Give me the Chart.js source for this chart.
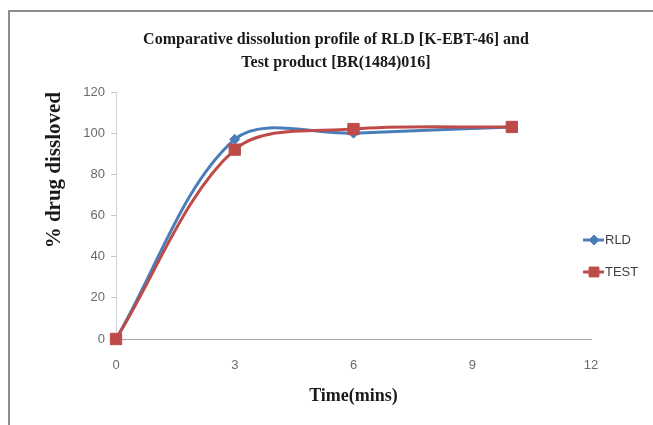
<!DOCTYPE html>
<html lang="en">

<head>
    <meta charset="UTF-8">
    <title>Dissolution profile</title>
    <style>
        html, body { margin: 0; padding: 0; background: #fff; overflow: hidden; }
        #frame {
            position: absolute; left: 8px; top: 10px; width: 700px; height: 500px;
            border-left: 2px solid #8c8c8c; border-top: 2px solid #8c8c8c;
        }
        #wrap { position: absolute; left: 0; top: 0; width: 653px; height: 425px; }
    </style>
</head>

<body>
    <div id="frame"></div>
    <div id="wrap">
        <canvas id="myChart" width="653" height="425"></canvas>
    </div>

    <script src="https://cdn.jsdelivr.net/npm/chart.js"></script>

    <script>

        // values
        var TIME = [0, 3, 6, 10];
        var RLD = [0, 97, 100, 103];
        var TEST = [0, 92, 102, 103];
        var X_TICKS = [0, 3, 6, 9, 12];
        var Y_TICKS = [0, 20, 40, 60, 80, 100, 120];

        var BLUE = "#4A7EBB";
        var RED = "#BE4B48";
        var TICK_FONT = { family: "'Liberation Sans Narrow', 'Liberation Sans', sans-serif", size: 13 };
        var SERIF = "'Liberation Serif', 'Times New Roman', serif";

        function toPoints(xs, ys) {
            return xs.map((x, i) => ({ x: x, y: ys[i] }));
        }

        // legend drawn to the right of the plot, like the excel one
        var sideLegend = {
            id: "sideLegend",
            afterDraw(chart) {
                var ctx = chart.ctx;
                var area = chart.chartArea;
                var x0 = area.right - 8;
                var y0 = area.top + 148;
                chart.data.datasets.forEach((ds, i) => {
                    var y = y0 + i * 32;
                    ctx.save();
                    ctx.strokeStyle = ds.borderColor;
                    ctx.fillStyle = ds.backgroundColor;
                    ctx.lineWidth = 3;
                    ctx.beginPath();
                    ctx.moveTo(x0, y);
                    ctx.lineTo(x0 + 21, y);
                    ctx.stroke();
                    ctx.lineWidth = 1;
                    Chart.helpers.drawPoint(ctx, {
                        pointStyle: ds.pointStyle,
                        radius: ds.legendRadius,
                        borderWidth: 1
                    }, x0 + 11, y);
                    ctx.fillStyle = "#404040";
                    ctx.font = "13px " + TICK_FONT.family;
                    ctx.textBaseline = "middle";
                    ctx.fillText(ds.label, x0 + 22, y);
                    ctx.restore();
                });
            }
        };

        var chart = new Chart("myChart", {
            type: "line",
            data: {
                datasets: [{
                    label: "RLD",
                    data: toPoints(TIME, RLD),
                    borderColor: BLUE,
                    backgroundColor: BLUE,
                    borderWidth: 3,
                    pointStyle: "rectRot",
                    pointRadius: 5,
                    legendRadius: 5,
                    pointBorderWidth: 1,
                    tension: 0.33,
                    clip: false,
                    yAxisID: "y",
                    order: 1
                },
                {
                    label: "TEST",
                    data: toPoints(TIME, TEST),
                    borderColor: RED,
                    backgroundColor: RED,
                    borderWidth: 3,
                    pointStyle: "rect",
                    pointRadius: 8,
                    legendRadius: 7,
                    pointBorderWidth: 1,
                    tension: 0.33,
                    clip: false,
                    yAxisID: "y",
                    order: 0
                }]
            },
            options: {
                responsive: false,
                animation: false,
                layout: { padding: { left: 19, right: 0, top: 0, bottom: 0 } },
                plugins: {
                    legend: { display: false },
                    tooltip: { enabled: false },
                    title: {
                        display: true,
                        text: ["Comparative dissolution profile of RLD [K-EBT-46] and",
                            "Test product [BR(1484)016]"],
                        color: "#1a1a1a",
                        font: { family: SERIF, size: 16, weight: "bold", lineHeight: "23px" },
                        padding: { top: 28, bottom: 18 }
                    }
                },
                scales: {
                    x: {
                        type: "linear",
                        min: 0,
                        max: 12,
                        afterBuildTicks: s => { s.ticks = X_TICKS.map(v => ({ value: v })); },
                        afterFit: s => { s.height = 86; },
                        grid: { display: true, drawOnChartArea: false, drawTicks: false },
                        border: { display: true, color: "#a6a6a6", width: 1 },
                        ticks: { color: "#6b6b6b", font: TICK_FONT, padding: 19, maxRotation: 0 },
                        title: {
                            display: true,
                            text: "Time(mins)",
                            color: "#1a1a1a",
                            font: { family: SERIF, size: 18, weight: "bold" },
                            padding: { top: 18, bottom: 18 }
                        }
                    },
                    y: {
                        min: 0,
                        max: 120,
                        afterBuildTicks: s => { s.ticks = Y_TICKS.map(v => ({ value: v })); },
                        afterFit: s => { s.width = 97; },
                        grid: { display: true, drawOnChartArea: false, drawTicks: true, tickLength: 5, color: "#c8c8c8" },
                        border: { display: true, color: "#d4d4d4", width: 1 },
                        ticks: { color: "#6b6b6b", font: TICK_FONT, padding: 6 },
                        title: {
                            display: true,
                            text: "% drug dissloved",
                            align: "end",
                            color: "#1a1a1a",
                            font: { family: SERIF, size: 21, weight: "bold" },
                            padding: { top: 23, bottom: 0 }
                        }
                    },
                    // empty right-hand space where the legend sits
                    yRight: {
                        position: "right",
                        display: true,
                        afterFit: s => { s.width = 62; },
                        grid: { display: false },
                        border: { display: false },
                        ticks: { display: false }
                    }
                }
            },
            plugins: [sideLegend]
        });

    </script>
</body>

</html>
